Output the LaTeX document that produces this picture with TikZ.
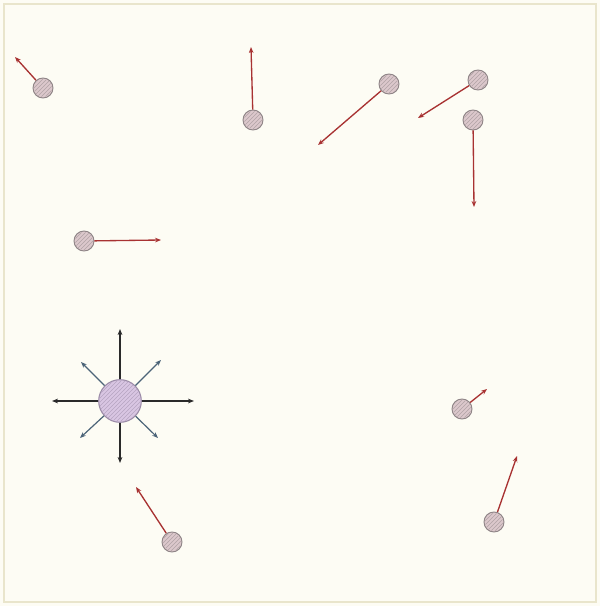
\documentclass[tikz,border=0pt]{standalone}
\usetikzlibrary{arrows.meta,patterns}
\definecolor{bgc}{HTML}{FDFCF4}
\definecolor{bdc}{HTML}{E9E5CC}
\definecolor{bigfill}{HTML}{D9C6E3}
\definecolor{bigdraw}{HTML}{9A8AA6}
\definecolor{smfill}{HTML}{DCC8CC}
\definecolor{smdraw}{HTML}{8E8486}
\definecolor{redarr}{HTML}{A83232}
\definecolor{blkarr}{HTML}{2A2A2A}
\definecolor{bluarr}{HTML}{4C6478}
\begin{document}
\begin{tikzpicture}[x=0.75pt,y=-0.75pt,
  small/.style={circle,draw=smdraw,line width=0.7pt,fill=smfill,inner sep=0pt,minimum size=15pt},
  big/.style={circle,draw=bigdraw,line width=0.8pt,fill=bigfill,inner sep=0pt,minimum size=32pt},
  hatch/.style={pattern=north east lines,pattern color=#1},
  redv/.style={draw=redarr,line width=1pt,-{Stealth[length=4.5pt,width=3.5pt]}},
  blkv/.style={draw=blkarr,line width=1pt,-{Stealth[length=4.5pt,width=3.5pt]}},
  bluv/.style={draw=bluarr,line width=0.9pt,-{Stealth[length=4.5pt,width=3.5pt]}}]
\useasboundingbox (0,0) rectangle (600,606);
\fill[bgc] (0,0) rectangle (600,606);
\draw[bdc,line width=1pt] (4,4) rectangle (596,602);
% big circle
\node[big] (B) at (120,401) {};
\path[hatch=bigdraw!55!bigfill] (120,401) circle (20.5);
\coordinate (bn) at (120,329);
\coordinate (bs) at (120,463);
\coordinate (bw) at (52,401);
\coordinate (be) at (194,401);
\coordinate (bnw) at (81,362);
\coordinate (bne) at (161,360);
\coordinate (bsw) at (80,438);
\coordinate (bse) at (158,438);
\draw[blkv] (B) -- (bn);
\draw[blkv] (B) -- (bs);
\draw[blkv] (B) -- (bw);
\draw[blkv] (B) -- (be);
\draw[bluv] (B) -- (bnw);
\draw[bluv] (B) -- (bne);
\draw[bluv] (B) -- (bsw);
\draw[bluv] (B) -- (bse);
% small circles
\node[small] (s1) at (43,88) {};
\node[small] (s2) at (253,120) {};
\node[small] (s3) at (389,84) {};
\node[small] (s4) at (478,80) {};
\node[small] (s5) at (473,120) {};
\node[small] (s6) at (84,241) {};
\node[small] (s7) at (462,409) {};
\node[small] (s8) at (494,522) {};
\node[small] (s9) at (172,542) {};
\foreach \x/\y in {43/88,253/120,389/84,478/80,473/120,84/241,462/409,494/522,172/542}
  \path[hatch=smdraw!55!smfill] (\x,\y) circle (9);
\coordinate (t1) at (15,57);
\coordinate (t2) at (251,47);
\coordinate (t3) at (318,145);
\coordinate (t4) at (418,118);
\coordinate (t5) at (474,207);
\coordinate (t6) at (161,240);
\coordinate (t7) at (487,389);
\coordinate (t8) at (517,456);
\coordinate (t9) at (136,487);
\draw[redv] (s1) -- (t1);
\draw[redv] (s2) -- (t2);
\draw[redv] (s3) -- (t3);
\draw[redv] (s4) -- (t4);
\draw[redv] (s5) -- (t5);
\draw[redv] (s6) -- (t6);
\draw[redv] (s7) -- (t7);
\draw[redv] (s8) -- (t8);
\draw[redv] (s9) -- (t9);
\end{tikzpicture}
\end{document}
